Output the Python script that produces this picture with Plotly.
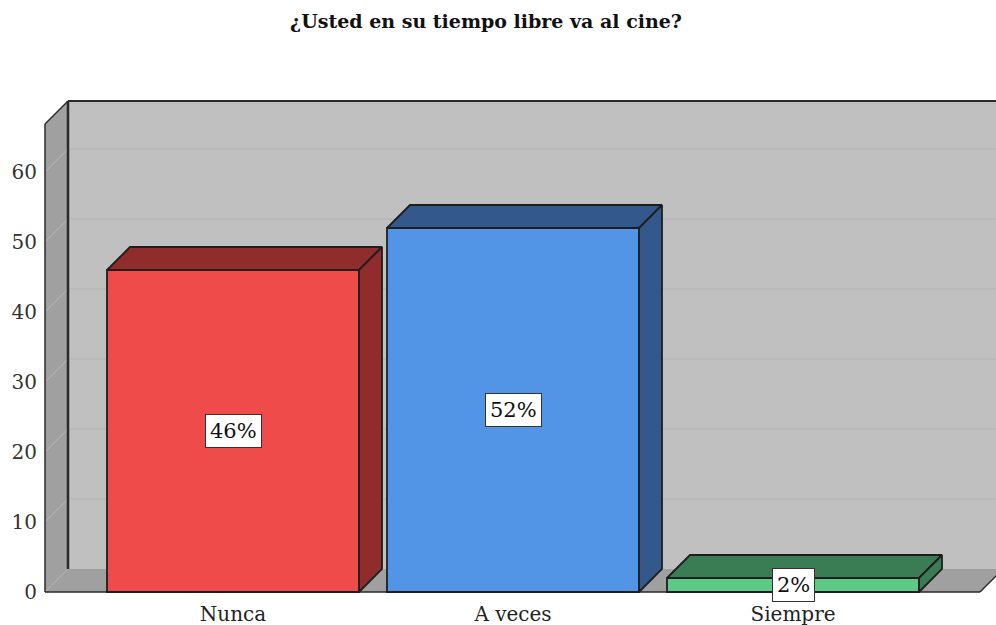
import plotly.graph_objects as go

categories = ["Nunca", "A veces", "Siempre"]
values = [46, 52, 2]
labels = ["46%", "52%", "2%"]
front_colors = ["#EF4B4B", "#5294E6", "#5CCA86"]
depth_colors = ["#902C2C", "#33598C", "#3A7D54"]
y_ticks = [0, 10, 20, 30, 40, 50, 60]

# chart geometry in data units: 280 px per category, 7 px per value unit
DX, DY = 23 / 280, 23 / 7
BAR_W = 0.9
X_MIN, X_MAX = -0.675, 2.725
Y_MIN, Y_MAX = -2 / 7, 70.43
WALL_TOP = 70.14
WALL_L = -188 / 280
FLOOR_R = 747 / 280
EDGE = "#1E1E1E"
FONT = "DejaVu Serif"

fig = go.Figure()
fig.add_trace(go.Bar(
    x=list(range(len(values))), y=values, width=BAR_W,
    marker=dict(color=front_colors, line=dict(color=EDGE, width=1.8)),
    hoverinfo="skip", showlegend=False,
))
for i, v in enumerate(values):
    l, r = i - BAR_W / 2, i + BAR_W / 2
    fig.add_trace(go.Scatter(
        x=[l, l + DX, r + DX, r, l], y=[v, v + DY, v + DY, v, v],
        mode="lines", fill="toself", fillcolor=depth_colors[i],
        line=dict(color=EDGE, width=1.8), hoverinfo="skip", showlegend=False,
    ))
    fig.add_trace(go.Scatter(
        x=[r, r + DX, r + DX, r, r], y=[0, DY, v + DY, v, 0],
        mode="lines", fill="toself", fillcolor=depth_colors[i],
        line=dict(color=EDGE, width=1.8), hoverinfo="skip", showlegend=False,
    ))

shapes = []
def poly(pts, fill, line=None, width=0):
    path = "M " + " L ".join(f"{x},{y}" for x, y in pts) + " Z"
    shapes.append(dict(type="path", path=path, xref="x", yref="y", layer="below",
                       fillcolor=fill, line=dict(color=line or fill, width=width)))
def seg(x0, y0, x1, y1, color, width):
    shapes.append(dict(type="line", x0=x0, y0=y0, x1=x1, y1=y1, xref="x", yref="y",
                       layer="below", line=dict(color=color, width=width)))

top = WALL_TOP - DY
poly([(WALL_L + DX, DY), (X_MAX + 1, DY), (X_MAX + 1, WALL_TOP), (WALL_L + DX, WALL_TOP)], "#C0C0C0")
poly([(WALL_L, 0), (WALL_L + DX, DY), (FLOOR_R + DX, DY), (FLOOR_R, 0)], "#A0A0A0")
poly([(WALL_L, 0), (WALL_L + DX, DY), (WALL_L + DX, WALL_TOP), (WALL_L, top)], "#A0A0A0")
for t in y_ticks[1:]:
    seg(WALL_L, t, WALL_L + DX, t + DY, "#B4B4B4", 1)
    seg(WALL_L + DX, t + DY, X_MAX + 1, t + DY, "#B2B2B2", 1.2)
seg(WALL_L, 0, WALL_L + DX, DY, "#B4B4B4", 1)
seg(WALL_L + DX, DY, WALL_L + DX, WALL_TOP, "#2A2A2A", 2.5)
seg(WALL_L + DX, WALL_TOP, X_MAX + 1, WALL_TOP, "#2A2A2A", 2)
seg(WALL_L, top, WALL_L + DX, WALL_TOP, "#2A2A2A", 1.5)
seg(WALL_L, 0, WALL_L, top, "#2A2A2A", 1.5)
seg(WALL_L, 0, FLOOR_R, 0, "#2A2A2A", 1.5)
seg(FLOOR_R, 0, FLOOR_R + DX, DY, "#2A2A2A", 1.5)

annotations = [dict(
    x=i, y=v / 2, text=labels[i], showarrow=False, xref="x", yref="y",
    bgcolor="white", bordercolor="#333333", borderwidth=1, borderpad=4,
    font=dict(family=FONT, size=21, color="#111111"),
) for i, v in enumerate(values)]

fig.update_layout(
    width=996, height=625, autosize=False,
    margin=dict(l=44, r=0, t=99, b=31, pad=0),
    paper_bgcolor="white", plot_bgcolor="white",
    title=dict(text="<b>¿Usted en su tiempo libre va al cine?</b>",
               x=486 / 996, xanchor="center", y=1 - 21 / 625, yanchor="middle",
               font=dict(family=FONT, size=19, color="#111111")),
    shapes=shapes, annotations=annotations, showlegend=False,
    xaxis=dict(range=[X_MIN, X_MAX], tickmode="array",
               tickvals=list(range(len(categories))), ticktext=categories,
               showgrid=False, zeroline=False, showline=False, ticks="",
               ticklabelstandoff=6,
               tickfont=dict(family=FONT, size=20, color="#222222")),
    yaxis=dict(range=[Y_MIN, Y_MAX], tickmode="array", tickvals=y_ticks,
               showgrid=False, zeroline=False, showline=False, ticks="",
               ticklabelstandoff=6,
               tickfont=dict(family=FONT, size=20, color="#333333")),
)
fig.write_html("out.html", config={"displayModeBar": False},
               post_script="document.body.style.margin='0';")
